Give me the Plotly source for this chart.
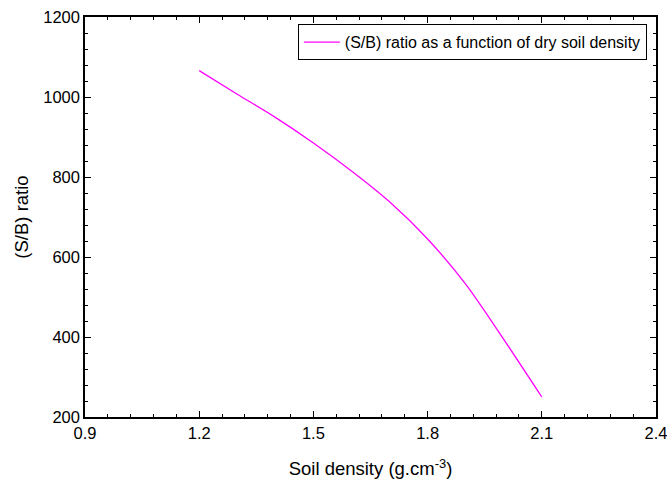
import plotly.graph_objects as go

density = [1.2, 1.3, 1.4, 1.5, 1.6, 1.7, 1.8, 1.9, 2.0, 2.1]
sb_ratio = [1066, 1007, 949, 885, 815, 738, 645, 532, 394, 250]
series_name = "(S/B) ratio as a function of dry soil density"
x_ticks = [0.9, 1.2, 1.5, 1.8, 2.1, 2.4]
y_ticks = [200, 400, 600, 800, 1000, 1200]

FONT = "Arial, Liberation Sans"

fig = go.Figure()
fig.add_trace(go.Scatter(x=density, y=sb_ratio, mode="lines", name=series_name,
                         line=dict(color="#ff00ff", width=1.3, shape="spline", smoothing=0.8)))

axis_common = dict(showline=True, linecolor="black", linewidth=1.5, mirror="ticks",
                   ticks="inside", ticklen=6, tickwidth=1, tickcolor="black",
                   showgrid=False, zeroline=False, automargin=False,
                   ticklabeloverflow="allow",
                   tickfont=dict(family=FONT, size=16.5, color="black"))

fig.update_layout(
    width=667, height=487,
    margin=dict(l=85, r=11, t=17, b=70),
    paper_bgcolor="white", plot_bgcolor="white",
    font=dict(family=FONT, color="black"),
    showlegend=True,
    legend=dict(x=0.984, y=0.982, xanchor="right", yanchor="top",
                bordercolor="black", borderwidth=1, bgcolor="white",
                font=dict(size=16, family=FONT),
                itemwidth=36),
    xaxis=dict(range=[0.9, 2.4], tickmode="array", tickvals=x_ticks,
               ticktext=[f"{v:.1f}" for v in x_ticks],
               minor=dict(dtick=0.06, tick0=0.9, ticks="inside", ticklen=3, tickcolor="black"),
               title=dict(text="Soil density (g.cm<sup>-3</sup>)", font=dict(size=18.5), standoff=22),
               **axis_common),
    yaxis=dict(range=[200, 1200], tickmode="array", tickvals=y_ticks,
               minor=dict(dtick=40, tick0=200, ticks="inside", ticklen=3, tickcolor="black"),
               title=dict(text="(S/B) ratio", font=dict(size=18.5), standoff=10),
               **axis_common),
)

fig.write_html("out.html", config={"displayModeBar": False},
               post_script="document.body.style.margin='0px';document.body.style.overflow='hidden';")
